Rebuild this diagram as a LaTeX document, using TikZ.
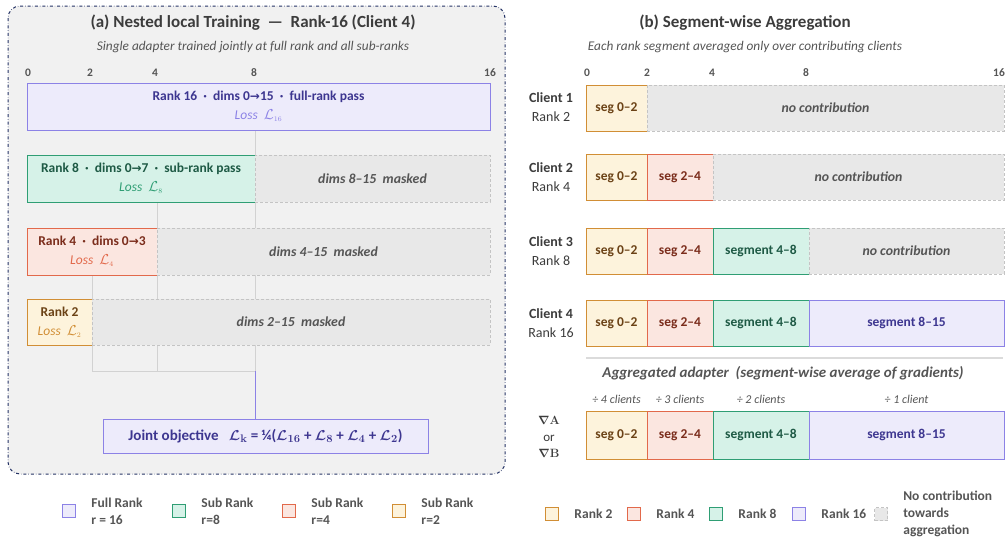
\documentclass[tikz,border=0pt]{standalone}
\usepackage{fontspec}
\setmainfont{Carlito}
\newfontfamily\arrowfont{DejaVu Sans}
\usetikzlibrary{positioning}

\definecolor{fullc}{HTML}{8C82E6}
\definecolor{fullf}{HTML}{EDEBFB}
\definecolor{fullt}{HTML}{3D3690}
\definecolor{eightc}{HTML}{2F9E74}
\definecolor{eightf}{HTML}{D6F2E8}
\definecolor{eightt}{HTML}{1E5A45}
\definecolor{fourc}{HTML}{E2694B}
\definecolor{fourf}{HTML}{FBE6E0}
\definecolor{fourt}{HTML}{7B2D1C}
\definecolor{twoc}{HTML}{D18E35}
\definecolor{twof}{HTML}{FDF3DC}
\definecolor{twot}{HTML}{6B4216}
\definecolor{maskc}{HTML}{C4C4C4}
\definecolor{maskf}{HTML}{E8E8E8}
\definecolor{maskt}{HTML}{555555}
\definecolor{panelf}{HTML}{F1F1F1}
\definecolor{navy}{HTML}{263466}
\definecolor{headc}{HTML}{3C3C3C}
\definecolor{greyt}{HTML}{555555}
\definecolor{guidec}{HTML}{D2D2D2}

\newcommand{\toarr}{{\arrowfont\bfseries\fontsize{12}{14}\selectfont →}}

\begin{document}
\begin{tikzpicture}[x=1pt, y=-1pt,
  bar/.style={draw, line width=0.9pt, inner sep=0pt, outer sep=0pt, anchor=north west, align=center,
    font=\fontsize{13.5}{16}\selectfont\bfseries},
  fullbar/.style={bar, draw=fullc, fill=fullf, text=fullt},
  eightbar/.style={bar, draw=eightc, fill=eightf, text=eightt},
  fourbar/.style={bar, draw=fourc, fill=fourf, text=fourt},
  twobar/.style={bar, draw=twoc, fill=twof, text=twot},
  maskbar/.style={draw=maskc, fill=maskf, densely dashed, line width=0.6pt, inner sep=0pt, outer sep=0pt,
    anchor=north west, text=maskt, font=\fontsize{13.8}{16}\selectfont\bfseries\itshape},
  heading/.style={text=headc, font=\fontsize{17}{20}\selectfont\bfseries},
  subheading/.style={text=greyt, font=\fontsize{13.3}{16}\selectfont\itshape},
  tick/.style={text=greyt, font=\fontsize{11.5}{13}\selectfont\bfseries},
  client/.style={text=headc, align=center, font=\fontsize{14}{19}\selectfont},
  divide/.style={text=greyt, font=\fontsize{12}{14}\selectfont\itshape},
  guide/.style={draw=guidec, line width=0.7pt},
  legbox/.style={draw, line width=0.9pt, minimum size=13pt, inner sep=0pt},
  legtext/.style={anchor=west, align=left, text=greyt, font=\fontsize{13.5}{17}\selectfont\bfseries}
]
\useasboundingbox (0,0) rectangle (1008,544);

% Panel (a)
\draw[navy, dash dot, line width=1pt, fill=panelf, rounded corners=12pt] (8,6) rectangle (505,474);
\node[heading] (titlea) at (253,23) {(a) Nested local Training \ — \ Rank-16 (Client 4)};
\node[subheading] (suba) at (253,47) {Single adapter trained jointly at full rank and all sub-ranks};

%Ticks
\node[tick] at (28,73) {0};
\node[tick] at (90,73) {2};
\node[tick] at (155,73) {4};
\node[tick] at (254,73) {8};
\node[tick] at (490,73) {16};

%Guides
\coordinate (hub) at (255,371);
\coordinate (hub4) at (157,371);
\coordinate (hub2) at (92,371);
\draw[guide] (hub |- 0,130) -- (hub);
\draw[guide] (hub4 |- 0,202) -- (hub4);
\draw[guide] (hub2 |- 0,274) -- (hub2);
\draw[guide] (hub2) -- (hub);

%Bars
\node[fullbar, minimum width=463pt, minimum height=47pt] (r16) at (27,83)
  {Rank 16 \ · \ dims 0\toarr15 \ · \ full-rank pass\\[3pt]
   {\color{fullc}\mdseries\itshape Loss \ $\mathcal{L}_{\scriptscriptstyle 16}$}};
\node[eightbar, minimum width=228pt, minimum height=47pt] (r8) at (27,155)
  {Rank 8 \ · \ dims 0\toarr7 \ · \ sub-rank pass\\[3pt]
   {\color{eightc}\mdseries\itshape Loss \ $\mathcal{L}_{\scriptscriptstyle 8}$}};
\node[maskbar, minimum width=235pt, minimum height=47pt, right=0pt of r8] (m8) {dims 8–15 \ masked};
\node[fourbar, minimum width=130pt, minimum height=47pt] (r4) at (27,228)
  {Rank 4 \ · \ dims 0\toarr3\\[3pt]
   {\color{fourc}\mdseries\itshape Loss \ $\mathcal{L}_{\scriptscriptstyle 4}$}};
\node[maskbar, minimum width=333pt, minimum height=47pt, right=0pt of r4] (m4) {dims 4–15 \ masked};
\node[twobar, minimum width=65pt, minimum height=46pt] (r2) at (27,299)
  {Rank 2\\[3pt]
   {\color{twoc}\mdseries\itshape Loss \ $\mathcal{L}_{\scriptscriptstyle 2}$}};
\node[maskbar, minimum width=398pt, minimum height=46pt, right=0pt of r2] (m2) {dims 2–15 \ masked};

%Joint objective
\node[draw=fullc, fill=fullf, line width=0.9pt, text=fullt, minimum width=325pt, minimum height=34pt,
  font=\fontsize{15}{17}\selectfont\bfseries] (joint) at (265.5,436)
  {Joint objective \ \ {\boldmath$\mathcal{L}_{\mathbf{k}}$} = ¼({\boldmath$\mathcal{L}_{16}$} + {\boldmath$\mathcal{L}_{8}$} + {\boldmath$\mathcal{L}_{4}$} + {\boldmath$\mathcal{L}_{2}$})};
\draw[fullc, line width=0.9pt] (hub) -- (hub |- joint.north);

% Panel (b)
\node[heading] (titleb) at (745,23) {(b) Segment-wise Aggregation};
\node[subheading] (subb) at (745,47) {Each rank segment averaged only over contributing clients};

\node[tick] at (587,73) {0};
\node[tick] at (647,73) {2};
\node[tick] at (712,73) {4};
\node[tick] at (806,73) {8};
\node[tick] at (999,73) {16};

%Client 1
\node[client] (cl1) at (551,107) {\textbf{Client 1}\\Rank 2};
\node[twobar, minimum width=61pt, minimum height=46pt] (c1a) at (586,85) {seg 0–2};
\node[maskbar, minimum width=357pt, minimum height=46pt, right=0pt of c1a] (c1n) {no contribution};

%Client 2
\node[client] (cl2) at (551,177) {\textbf{Client 2}\\Rank 4};
\node[twobar, minimum width=61pt, minimum height=46pt] (c2a) at (586,154) {seg 0–2};
\node[fourbar, minimum width=66pt, minimum height=46pt, right=0pt of c2a] (c2b) {seg 2–4};
\node[maskbar, minimum width=291pt, minimum height=46pt, right=0pt of c2b] (c2n) {no contribution};

%Client 3
\node[client] (cl3) at (551,251) {\textbf{Client 3}\\Rank 8};
\node[twobar, minimum width=61pt, minimum height=46pt] (c3a) at (586,228) {seg 0–2};
\node[fourbar, minimum width=66pt, minimum height=46pt, right=0pt of c3a] (c3b) {seg 2–4};
\node[eightbar, minimum width=96pt, minimum height=46pt, right=0pt of c3b] (c3c) {segment 4–8};
\node[maskbar, minimum width=195pt, minimum height=46pt, right=0pt of c3c] (c3n) {no contribution};

%Client 4
\node[client] (cl4) at (551,323) {\textbf{Client 4}\\Rank 16};
\node[twobar, minimum width=61pt, minimum height=46pt] (c4a) at (586,300) {seg 0–2};
\node[fourbar, minimum width=66pt, minimum height=46pt, right=0pt of c4a] (c4b) {seg 2–4};
\node[eightbar, minimum width=96pt, minimum height=46pt, right=0pt of c4b] (c4c) {segment 4–8};
\node[fullbar, minimum width=195pt, minimum height=46pt, right=0pt of c4c] (c4d) {segment 8–15};

\draw[guidec!80, line width=1.2pt] (586,358) -- (1003,358);

%Aggregated adapter
\node[text=greyt, font=\fontsize{15}{18}\selectfont\bfseries\itshape] (aggtitle) at (783,373)
  {Aggregated adapter \ (segment-wise average of gradients)};
\node[twobar, minimum width=61pt, minimum height=48pt] (ga) at (586,411) {seg 0–2};
\node[fourbar, minimum width=66pt, minimum height=48pt, right=0pt of ga] (gb) {seg 2–4};
\node[eightbar, minimum width=96pt, minimum height=48pt, right=0pt of gb] (gc) {segment 4–8};
\node[fullbar, minimum width=195pt, minimum height=48pt, right=0pt of gc] (gd) {segment 8–15};
\node[divide, above=4pt of ga] (da) {÷ 4 clients};
\node[divide, above=4pt of gb] (db) {÷ 3 clients};
\node[divide, above=4pt of gc] (dc) {÷ 2 clients};
\node[divide, above=4pt of gd] (dd) {÷ 1 client};
\node[text=headc, align=center, font=\fontsize{13}{16.5}\selectfont] (grad) at (549,437)
  {{\boldmath$\nabla\mathbf{A}$}\\or\\{\boldmath$\nabla\mathbf{B}$}};

% Legends
\node[legbox, draw=fullc, fill=fullf] (lfull) at (69,511) {};
\node[legtext, right=12pt of lfull] {Full Rank\\r = 16};
\node[legbox, draw=eightc, fill=eightf] (leight) at (179,511) {};
\node[legtext, right=12pt of leight] {Sub Rank\\r=8};
\node[legbox, draw=fourc, fill=fourf] (lfour) at (289,511) {};
\node[legtext, right=12pt of lfour] {Sub Rank\\r=4};
\node[legbox, draw=twoc, fill=twof] (ltwo) at (399,511) {};
\node[legtext, right=12pt of ltwo] {Sub Rank\\r=2};

\node[legbox, draw=twoc, fill=twof] (gtwo) at (552,514) {};
\node[legtext, right=12pt of gtwo] {Rank 2};
\node[legbox, draw=fourc, fill=fourf] (gfour) at (634,514) {};
\node[legtext, right=12pt of gfour] {Rank 4};
\node[legbox, draw=eightc, fill=eightf] (geight) at (716,514) {};
\node[legtext, right=12pt of geight] {Rank 8};
\node[legbox, draw=fullc, fill=fullf] (gfull) at (799,514) {};
\node[legtext, right=12pt of gfull] {Rank 16};
\node[legbox, draw=maskc, fill=maskf, densely dashed, line width=0.6pt] (gmask) at (881,514) {};
\node[legtext, right=12pt of gmask] {No contribution\\towards\\aggregation};

\end{tikzpicture}
\end{document}
